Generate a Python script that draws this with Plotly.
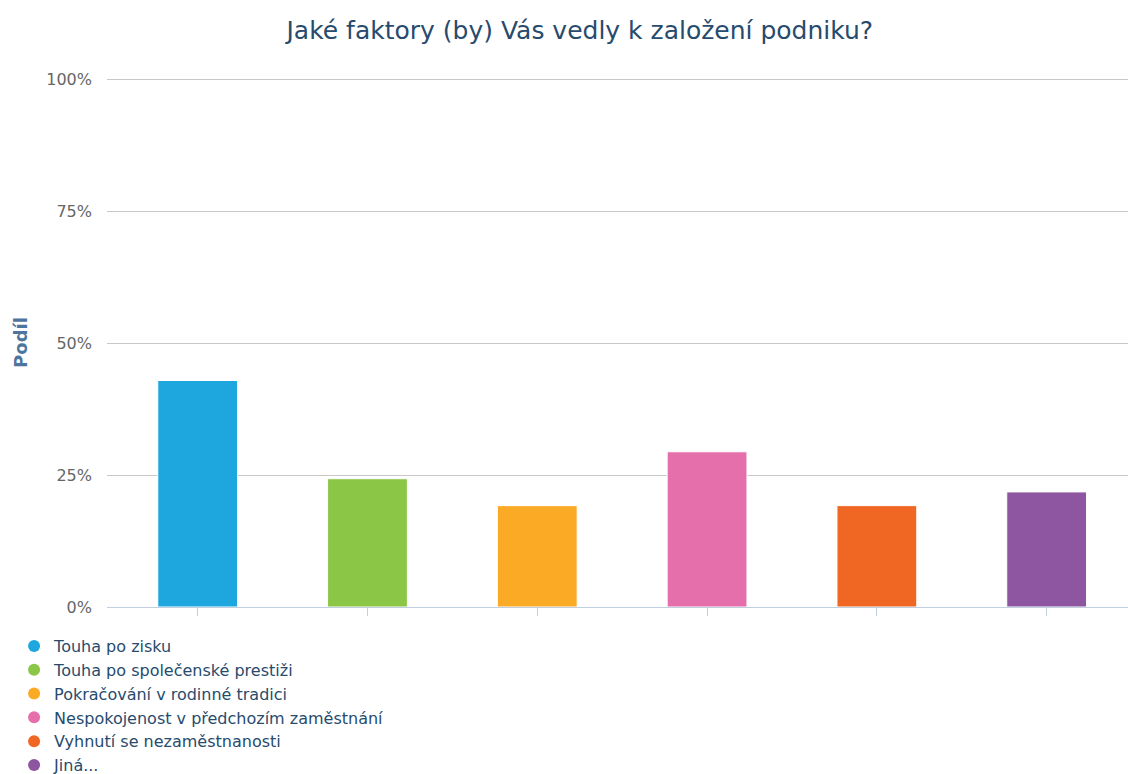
import plotly.graph_objects as go

categories = [
    "Touha po zisku",
    "Touha po společenské prestiži",
    "Pokračování v rodinné tradici",
    "Nespokojenost v předchozím zaměstnání",
    "Vyhnutí se nezaměstnanosti",
    "Jiná...",
]
values = [42.9, 24.3, 19.2, 29.4, 19.2, 21.8]
colors = ["#1EA7DF", "#8BC647", "#FBAA26", "#E56FAA", "#F06724", "#8E56A0"]
y_ticks = [0, 25, 50, 75, 100]
y_tick_labels = ["0%", "25%", "50%", "75%", "100%"]

FONT = "DejaVu Sans, sans-serif"

fig = go.Figure()
for cat, val, col in zip(categories, values, colors):
    fig.add_trace(go.Bar(
        x=[cat], y=[val], name=cat, width=0.47,
        marker=dict(color=col, line=dict(color="white", width=1)),
        showlegend=False,
        hovertemplate="%{x}: %{y:.1f}%<extra></extra>",
    ))
for cat, col in zip(categories, colors):
    fig.add_trace(go.Scatter(
        x=[None], y=[None], mode="markers", name=cat,
        marker=dict(color=col, size=13, symbol="circle"),
        showlegend=True,
    ))

fig.update_layout(
    width=1128, height=774,
    margin=dict(l=107, r=0, t=78, b=167, autoexpand=False),
    paper_bgcolor="white", plot_bgcolor="white",
    barmode="overlay",
    font=dict(family=FONT, color="#274b6d"),
    title=dict(
        text="Jaké faktory (by) Vás vedly k založení podniku?",
        x=0.514, xref="container", xanchor="center",
        y=0.961, yref="container", yanchor="middle",
        font=dict(size=25, color="#274b6d", family=FONT),
    ),
    legend=dict(
        orientation="v",
        x=-0.091, xanchor="left",
        y=-0.0417, yanchor="top",
        font=dict(size=16, color="#274b6d", family=FONT),
        itemsizing="constant",
        bgcolor="rgba(0,0,0,0)",
        traceorder="normal",
    ),
    xaxis=dict(
        categoryorder="array", categoryarray=categories,
        range=[-0.534, 5.479],
        showticklabels=False,
        ticks="outside", ticklen=8, tickcolor="#C0D0E0", tickwidth=1,
        showline=True, linecolor="#C0D0E0", linewidth=1,
        showgrid=False, zeroline=False,
        fixedrange=True,
    ),
    yaxis=dict(
        range=[0, 100.2],
        tickvals=y_ticks, ticktext=y_tick_labels,
        showgrid=True, gridcolor="#C8C8C8", gridwidth=1,
        zeroline=False, showline=False,
        ticks="", ticklabelstandoff=14,
        tickfont=dict(size=16, color="#666666", family=FONT),
        title=dict(text="<b>Podíl</b>", standoff=13,
                   font=dict(size=18, color="#4d759e", family=FONT)),
    ),
)

fig.write_html(
    "out.html",
    config={"displayModeBar": False},
    post_script="document.body.style.margin='0';document.body.style.overflow='hidden';",
)
